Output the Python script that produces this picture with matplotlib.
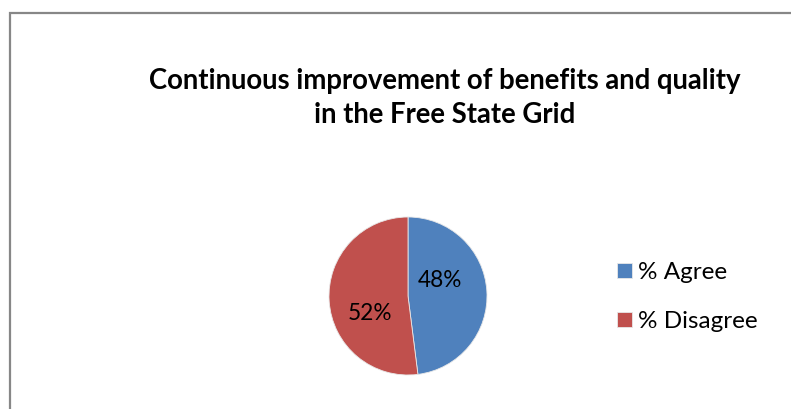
import matplotlib
matplotlib.use("Agg")
import matplotlib.pyplot as plt
from matplotlib.patches import Rectangle

labels = ["% Agree", "% Disagree"]
shares = [48, 52]
colors = ["#4F81BD", "#C0504D"]
title = "Continuous improvement of benefits and quality\nin the Free State Grid"

W, H = 791, 409
fig = plt.figure(figsize=(W / 100, H / 100), dpi=100)
plt.rcParams['font.family'] = ['Lato', 'DejaVu Sans']

# chart frame, clipped at the right and bottom edges
fig.patches.append(Rectangle((10 / W, -0.1), 1.0, (H - 13) / H + 0.1,
                             transform=fig.transFigure, fill=False,
                             edgecolor="#878787", linewidth=1.6))

fig.text(445 / W, (H - 98) / H, title, ha="center", va="center",
         fontsize=19.8, fontweight="bold", linespacing=1.38)

cx, cy, r = 408, 296, 79
ax = fig.add_axes([(cx - r) / W, (H - cy - r) / H, 2 * r / W, 2 * r / H])
wedges, _, autotexts = ax.pie(shares, colors=colors, startangle=90, counterclock=False,
                              autopct="%1.0f%%", labels=None,
                              wedgeprops=dict(edgecolor="#e8e8e8", linewidth=0.6),
                              textprops=dict(fontsize=16.3, color="black"))
# nudge the percentage labels
autotexts[0].set_position((0.41, 0.19))
autotexts[1].set_position((-0.48, -0.22))
ax.set_xlim(-1, 1)
ax.set_ylim(-1, 1)
ax.set_aspect("equal")

fig.legend(wedges, labels, loc="center left", bbox_to_anchor=(595 / W, (H - 297) / H),
           frameon=False, fontsize=17.5, handlelength=0.62, handleheight=0.62,
           handletextpad=0.25, labelspacing=1.15)

fig.savefig("out.png", dpi=100)
